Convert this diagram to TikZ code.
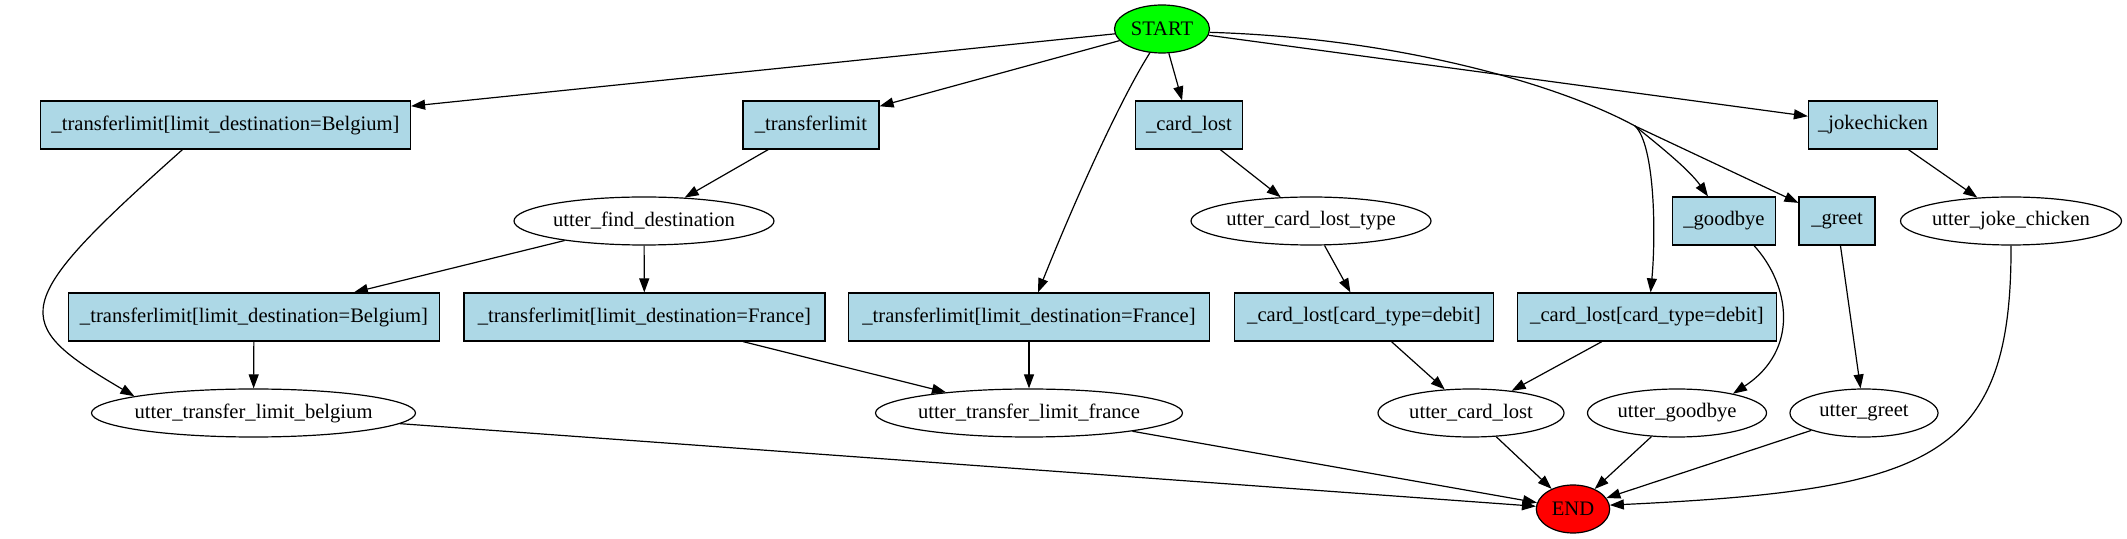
\documentclass[tikz,border=0pt]{standalone}
\usepackage{fontspec}
\setmainfont{Liberation Serif}
\usetikzlibrary{arrows.meta,shapes.geometric,calc}
\definecolor{lblue}{HTML}{ADD8E6}
\newcommand\zt[1]{\makebox[0pt]{#1}}
\begin{document}
\begin{tikzpicture}[x=0.5pt,y=-0.5pt,
  font=\fontsize{10.3}{12}\selectfont,
  box/.style={draw, line width=0.6pt, fill=lblue, rectangle, minimum height=24pt, inner sep=0pt},
  ell/.style={draw, line width=0.6pt, ellipse, minimum height=24pt, inner sep=0pt},
  e/.style={draw, line width=0.6pt, -{Triangle[length=7pt,width=5pt]}}]
\useasboundingbox (0,0) rectangle (2127,539);

% row 0
\node[ell, fill=green, minimum width=47.5pt] (start) at (1162,29) {\zt{START}};
% row 1
\node[box, minimum width=185pt] (b1) at (225.5,125) {\_transferlimit[limit\_destination=Belgium]};
\node[box, minimum width=68pt] (tl) at (811,125) {\_transferlimit};
\node[box, minimum width=53.5pt] (cl) at (1189,125) {\_card\_lost};
\node[box, minimum width=64.5pt] (jc) at (1873,125) {\_jokechicken};
% row 2
\node[ell, minimum width=130pt] (ufd) at (644,221) {\zt{utter\_find\_destination}};
\node[ell, minimum width=120pt] (uclt) at (1311,221) {\zt{utter\_card\_lost\_type}};
\node[box, minimum width=51.5pt] (gb) at (1724,221) {\_goodbye};
\node[box, minimum width=38pt] (gr) at (1837,221) {\_greet};
\node[ell, minimum width=110.5pt] (ujc) at (2011,221) {\zt{utter\_joke\_chicken}};
% row 3
\node[box, minimum width=185.5pt] (b2) at (254,317) {\_transferlimit[limit\_destination=Belgium]};
\node[box, minimum width=180.5pt] (f1) at (644.4,317) {\_transferlimit[limit\_destination=France]};
\node[box, minimum width=180.5pt] (f2) at (1029,317) {\_transferlimit[limit\_destination=France]};
\node[box, minimum width=129.3pt] (cl1) at (1364,317) {\_card\_lost[card\_type=debit]};
\node[box, minimum width=129.3pt] (cl2) at (1647,317) {\_card\_lost[card\_type=debit]};
% row 4
\node[ell, minimum width=162pt] (utb) at (253.5,413) {\zt{utter\_transfer\_limit\_belgium}};
\node[ell, minimum width=153.5pt] (utf) at (1029,413) {\zt{utter\_transfer\_limit\_france}};
\node[ell, minimum width=93pt] (ucl) at (1471,413) {\zt{utter\_card\_lost}};
\node[ell, minimum width=89.5pt] (ugb) at (1677,413) {\zt{utter\_goodbye}};
\node[ell, minimum width=74pt] (ugr) at (1864,413) {\zt{utter\_greet}};
% row 5
\node[ell, fill=red, minimum width=36.7pt] (end) at (1573,509) {\zt{END}};

\coordinate (m) at (1635,126);

% edges from START
\draw[e] (start) -- (b1);
\draw[e] (start) -- (tl);
\draw[e] (start.243) .. controls (1120,100) and (1075,200) .. ([xshift=4.5pt]f2.north);
\draw[e] (start) -- (cl);
\draw[e] (start) -- (jc);
\draw[line width=0.6pt] (start.-4) .. controls (1400,38) and (1560,85) .. (m);
\draw[e] (m) .. controls (1652,140) and (1688,168) .. ([xshift=-8pt]gb.north);
\draw[e] (m) -- (gr);
\draw[e] (m) .. controls (1655,145) and (1656,235) .. ([xshift=1.8pt]cl2.north);

% left part
\draw[e] ([xshift=-21.5pt]b1.south) .. controls (8,305) and (8,322) .. (utb.172);
\draw[e] (tl) -- (ufd);
\draw[e] (ufd) -- (b2);
\draw[e] (ufd) -- (f1);
\draw[e] (b2) -- (utb);
\draw[e] (f1) -- (utf);
\draw[e] (f2) -- (utf);

% card lost
\draw[e] (cl) -- (uclt);
\draw[e] (uclt) -- (cl1);
\draw[e] (cl1) -- (ucl);
\draw[e] (cl2) -- (ucl);

% goodbye, greet, joke
\draw[e] ([xshift=15pt]gb.south) .. controls (1790,285) and (1800,350) .. (ugb.19);
\draw[e] (gr) -- (ugr);
\draw[e] (jc) -- (ujc);
\draw[e] (ujc.south) .. controls (2012,460) and (1930,490) .. (end.6);

% to END
\draw[e] (utb) -- (end);
\draw[e] (utf) -- (end);
\draw[e] (ucl) -- (end);
\draw[e] (ugb) -- (end);
\draw[e] (ugr) -- (end);
\end{tikzpicture}
\end{document}
